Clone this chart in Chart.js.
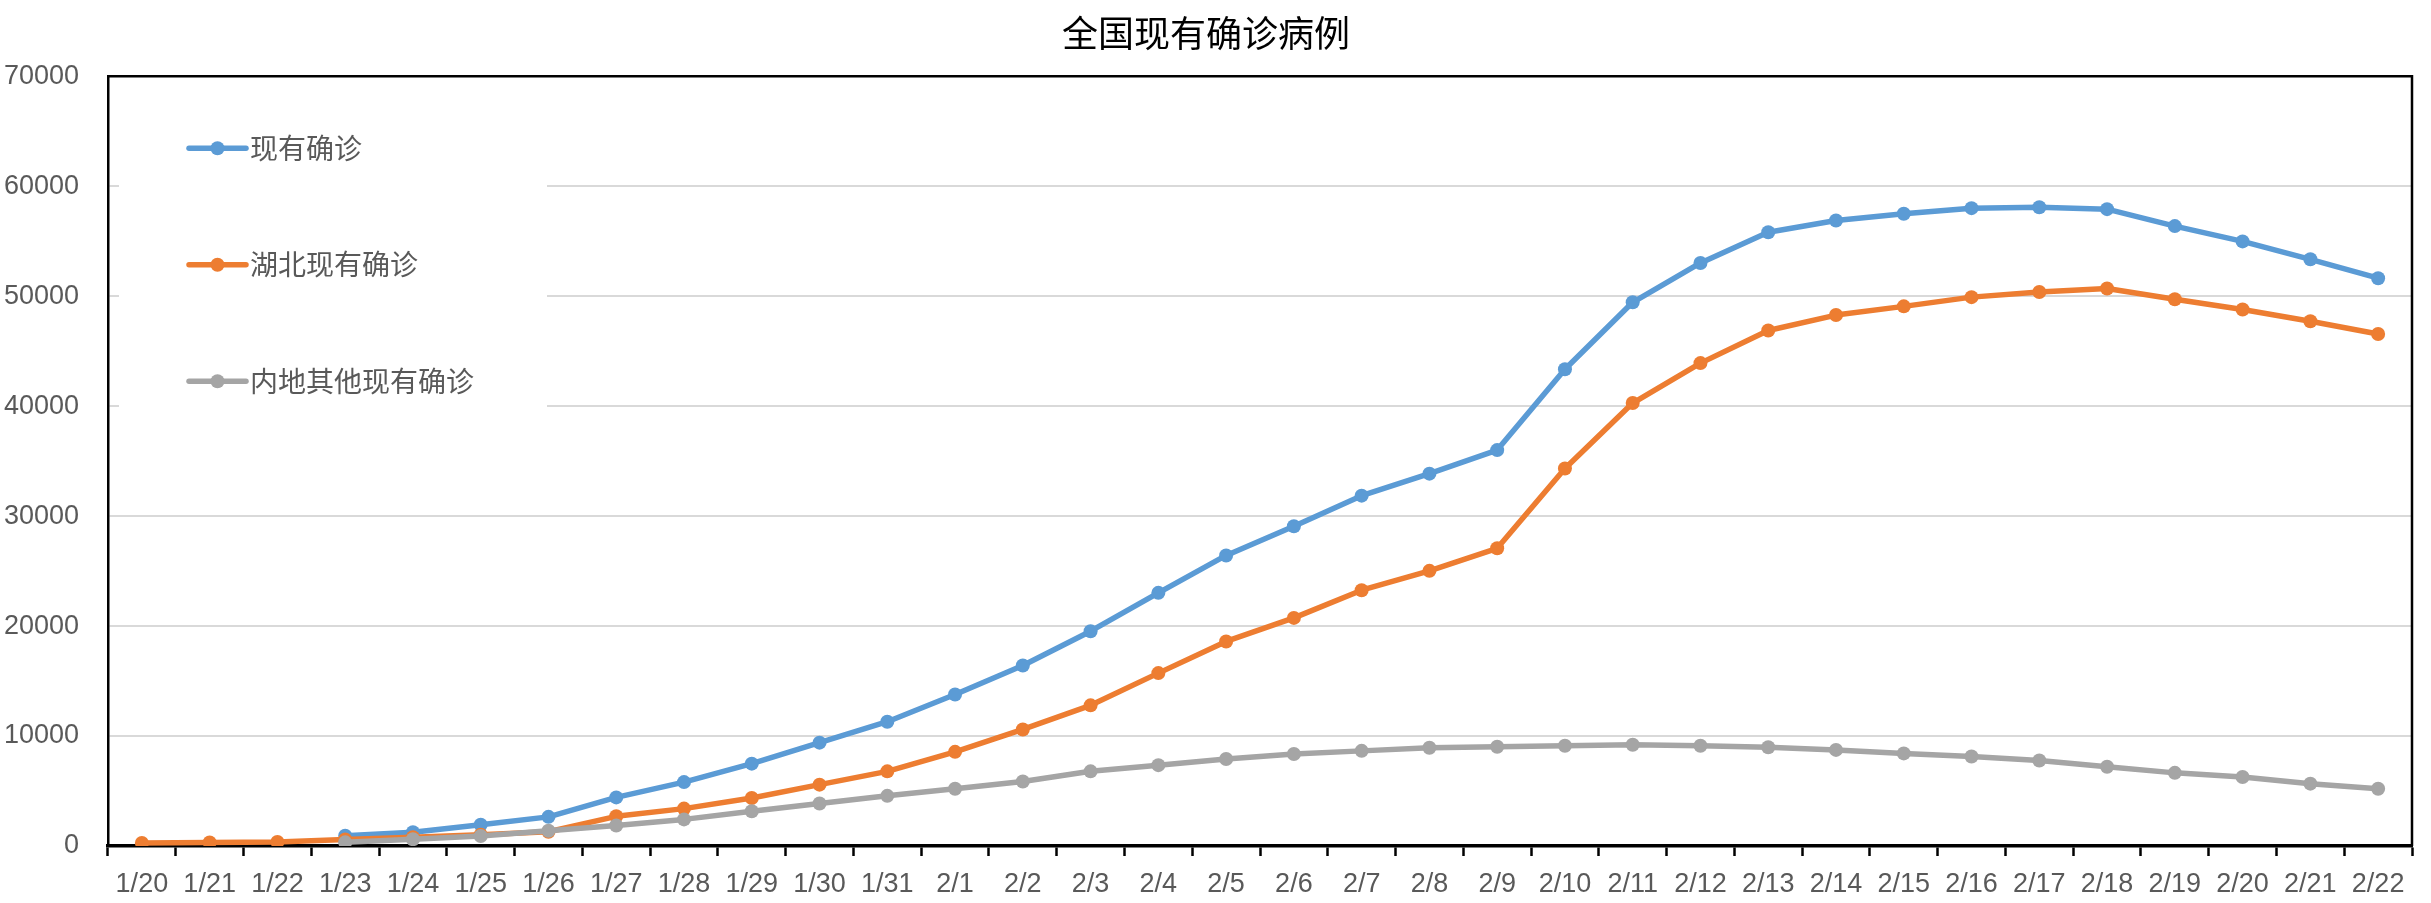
<!DOCTYPE html>
<html lang="zh-CN">
<head>
<meta charset="utf-8">
<title>全国现有确诊病例</title>
<script src="https://cdn.jsdelivr.net/npm/chart.js@4.4.1/dist/chart.umd.min.js"></script>
<style>
  html, body { margin: 0; padding: 0; background: #fff; }
  #wrap { position: relative; width: 2431px; height: 903px; }
</style>
</head>
<body>
<div id="wrap"><canvas id="active-chart"></canvas></div>
<script>
// 日期 (x 轴)
const DATES = [
  "1/20", "1/21", "1/22", "1/23", "1/24", "1/25", "1/26", "1/27", "1/28", "1/29", "1/30", "1/31",
  "2/1", "2/2", "2/3", "2/4", "2/5", "2/6", "2/7", "2/8", "2/9", "2/10", "2/11",
  "2/12", "2/13", "2/14", "2/15", "2/16", "2/17", "2/18", "2/19", "2/20", "2/21", "2/22",
];

// 现有确诊 (全国)
const NATIONAL_ACTIVE = [
  null, null, null, 930, 1250, 1930, 2650, 4420, 5810, 7490, 9400, 11300,
  13770, 16420, 19530, 23020, 26420, 29070, 31860, 33860, 36000, 43350, 49440,
  53020, 55810, 56880, 57490, 58000, 58090, 57910, 56370, 54980, 53350, 51630,
];

// 湖北现有确诊
const HUBEI_ACTIVE = [
  280, 320, 370, 600, 790, 1030, 1300, 2700, 3400, 4370, 5580, 6790,
  8560, 10600, 12790, 15720, 18600, 20740, 23260, 25020, 27070, 34330, 40280,
  43910, 46880, 48280, 49070, 49910, 50370, 50700, 49720, 48790, 47720, 46560,
];

// 内地其他现有确诊
const OTHER_ACTIVE = [
  null, null, null, 330, 620, 900, 1380, 1860, 2420, 3160, 3860, 4560,
  5210, 5860, 6790, 7350, 7910, 8370, 8650, 8930, 9020, 9120, 9210,
  9120, 8980, 8740, 8420, 8140, 7770, 7210, 6650, 6280, 5670, 5210,
];

const SERIES_LABELS = ["现有确诊", "湖北现有确诊", "内地其他现有确诊"];
const SERIES_COLORS = ["#5B9BD5", "#ED7D31", "#A5A5A5"];
const Y_TICKS = [0, 10000, 20000, 30000, 40000, 50000, 60000, 70000];

const LATIN_FONT = '"Liberation Sans", Arial, sans-serif';
const CJK_FONT = '"Noto Sans CJK SC", "Noto Sans", sans-serif';
const LABEL_GREY = "#595959";

/**
 * 图框: 上/右黑色边线 (Excel 绘图区边框)
 */
const frameLines = {
  id: "frameLines",
  beforeDatasetsDraw(chart) {
    const { ctx, chartArea: a } = chart;
    ctx.save();
    ctx.strokeStyle = "#000";
    ctx.lineWidth = 2.5;
    ctx.beginPath();
    ctx.moveTo(a.left, a.top);
    ctx.lineTo(a.right, a.top);
    ctx.lineTo(a.right, a.bottom);
    ctx.stroke();
    ctx.restore();
  },
};

/**
 * 图例: 位于绘图区左上角, 白底盖住网格线
 */
const insetLegend = {
  id: "insetLegend",
  beforeDatasetsDraw(chart) {
    const { ctx, chartArea: a } = chart;
    const boxLeft = a.left + 11;
    const boxTop = a.top + 12;
    ctx.save();
    ctx.fillStyle = "#fff";
    ctx.fillRect(boxLeft, boxTop, 428, 360);

    const lineX0 = a.left + 81;
    const lineX1 = a.left + 138;
    const textX = a.left + 142;
    let y = a.top + 72;
    chart.data.datasets.forEach((ds) => {
      ctx.strokeStyle = ds.borderColor;
      ctx.lineWidth = 5.5;
      ctx.lineCap = "round";
      ctx.beginPath();
      ctx.moveTo(lineX0, y);
      ctx.lineTo(lineX1, y);
      ctx.stroke();

      ctx.fillStyle = ds.borderColor;
      ctx.beginPath();
      ctx.arc((lineX0 + lineX1) / 2, y, 7, 0, Math.PI * 2);
      ctx.fill();

      ctx.fillStyle = LABEL_GREY;
      ctx.font = `28px ${CJK_FONT}`;
      ctx.textBaseline = "middle";
      ctx.textAlign = "left";
      ctx.fillText(ds.label, textX, y);
      y += 116.5;
    });
    ctx.restore();
  },
};

function makeSeries(label, data, color, order) {
  return {
    label,
    data,
    borderColor: color,
    backgroundColor: color,
    pointBackgroundColor: color,
    pointBorderWidth: 0,
    pointRadius: 7,
    borderWidth: 5.5,
    borderCapStyle: "round",
    borderJoinStyle: "round",
    tension: 0,
    spanGaps: false,
    order,
  };
}

function renderActiveChart() {
  const ctx = document.getElementById("active-chart");

  const datasets = [
    makeSeries(SERIES_LABELS[0], NATIONAL_ACTIVE, SERIES_COLORS[0], 3),
    makeSeries(SERIES_LABELS[1], HUBEI_ACTIVE, SERIES_COLORS[1], 2),
    makeSeries(SERIES_LABELS[2], OTHER_ACTIVE, SERIES_COLORS[2], 1),
  ];

  new Chart(ctx, {
    type: "line",
    data: { labels: DATES, datasets },
    plugins: [frameLines, insetLegend],
    options: {
      responsive: true,
      maintainAspectRatio: false,
      animation: false,
      layout: { padding: { left: 0, right: 19, top: 0, bottom: 0 } },
      plugins: {
        legend: { display: false },
        tooltip: { enabled: false },
        title: {
          display: true,
          text: "全国现有确诊病例",
          color: "#000",
          font: { family: CJK_FONT, size: 36, weight: "normal" },
          padding: { top: 12, bottom: 21 },
        },
      },
      scales: {
        x: {
          type: "category",
          offset: true,
          afterFit: (s) => { s.height = 57; },
          grid: {
            display: true,
            offset: true,
            drawOnChartArea: false,
            drawTicks: true,
            tickLength: 10,
            tickWidth: 2.5,
            tickColor: "#000",
          },
          border: { display: true, color: "#000", width: 3.5 },
          ticks: {
            color: LABEL_GREY,
            font: { family: LATIN_FONT, size: 27 },
            padding: 12,
            maxRotation: 0,
            autoSkip: false,
          },
        },
        y: {
          min: Y_TICKS[0],
          max: Y_TICKS[Y_TICKS.length - 1],
          afterFit: (s) => { s.width = 108; },
          afterBuildTicks: (s) => { s.ticks = Y_TICKS.map((v) => ({ value: v })); },
          grid: {
            color: "#D9D9D9",
            lineWidth: 2,
            drawTicks: false,
          },
          border: { display: true, color: "#000", width: 2.5 },
          ticks: {
            color: LABEL_GREY,
            font: { family: LATIN_FONT, size: 27 },
            padding: 29,
            callback: (v) => String(v),
          },
        },
      },
    },
  });
}

renderActiveChart();
</script>
</body>
</html>
